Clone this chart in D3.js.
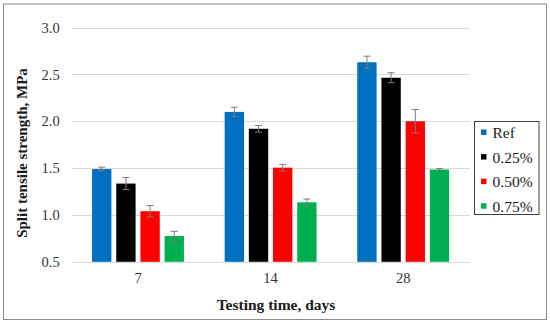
<!DOCTYPE html>
<html>
<head>
<meta charset="utf-8">
<script src="https://cdn.jsdelivr.net/npm/d3@7"></script>
<style>
  body { margin: 0; background: #fff; }
  text { font-family: "Liberation Serif", "Times New Roman", serif; }
</style>
</head>
<body>
<div id="vis"></div>
<script>
// chart data
let days = ['7', '14', '28'];
let series = ['Ref', '0.25%', '0.50%', '0.75%'];
let colors = ['#0070C0', '#000000', '#FF0000', '#00B050'];
let yTicks = [0.5, 1.0, 1.5, 2.0, 2.5, 3.0];

// mean values per series, in order of days
let refVals = [1.49, 2.10, 2.63];
let p25Vals = [1.335, 1.92, 2.465];
let p50Vals = [1.04, 1.505, 2.0];
let p75Vals = [0.775, 1.135, 1.485];

// error (+/-)
let refErr = [0.02, 0.05, 0.065];
let p25Err = [0.064, 0.035, 0.053];
let p50Err = [0.06, 0.035, 0.125];
let p75Err = [0.05, 0.035, 0.01];

let values = [refVals, p25Vals, p50Vals, p75Vals];
let errors = [refErr, p25Err, p50Err, p75Err];

let W = 550, H = 326;

let svg = d3.select('#vis')
  .append('svg')
  .attr('width', W)
  .attr('height', H);

// outer frame
svg.append('rect')
  .attr('x', 3.5).attr('y', 4)
  .attr('width', 543).attr('height', 315.5)
  .attr('fill', 'none')
  .attr('stroke', '#8c8c8c')
  .attr('stroke-width', 1);

let x0 = d3.scaleBand().domain(days).range([71.7, 469.5]);
let x1 = d3.scaleBand().domain(series)
  .range([20.35, x0.bandwidth() - 20.35])
  .paddingInner(0.2);
let y = d3.scaleLinear().domain([0.5, 3]).range([261.8, 27.6]);

// gridlines
svg.append('g')
  .selectAll('line')
  .data(yTicks)
  .enter()
  .append('line')
  .attr('x1', 71.7).attr('x2', 469.5)
  .attr('y1', d => Math.round(y(d)) + 0.5)
  .attr('y2', d => Math.round(y(d)) + 0.5)
  .attr('stroke', '#d9d9d9')
  .attr('stroke-width', 1);

// y axis labels
let yAxis = svg.append('g')
  .attr('transform', 'translate(71.7,0)')
  .call(d3.axisLeft(y).tickValues(yTicks).tickFormat(d3.format('.1f')).tickSize(0).tickPadding(12));
yAxis.select('.domain').remove();
yAxis.selectAll('text')
  .style('font-family', '"Liberation Serif", serif')
  .style('font-size', '14.5px')
  .attr('fill', '#333');

// x axis labels
let xAxis = svg.append('g')
  .attr('transform', 'translate(0,261.8)')
  .call(d3.axisBottom(x0).tickSize(0).tickPadding(11));
xAxis.select('.domain').remove();
xAxis.selectAll('text')
  .style('font-family', '"Liberation Serif", serif')
  .style('font-size', '14.5px')
  .attr('fill', '#333');

// bars
let rows = [];
series.forEach((s, i) => {
  days.forEach((d, j) => {
    rows.push({ day: d, s: s, i: i, v: values[i][j], e: errors[i][j] });
  });
});

svg.append('g')
  .selectAll('rect')
  .data(rows)
  .enter()
  .append('rect')
  .attr('x', d => x0(d.day) + x1(d.s))
  .attr('y', d => y(d.v))
  .attr('width', x1.bandwidth())
  .attr('height', d => y(0.5) - y(d.v))
  .attr('fill', d => colors[d.i]);

// error bars
let eg = svg.append('g')
  .attr('stroke', '#7a7a7a')
  .attr('stroke-width', 1);
rows.forEach(d => {
  let cx = x0(d.day) + x1(d.s) + x1.bandwidth() / 2;
  eg.append('line').attr('x1', cx).attr('x2', cx)
    .attr('y1', y(d.v + d.e)).attr('y2', y(d.v - d.e));
  [d.v + d.e, d.v - d.e].forEach(v => {
    eg.append('line').attr('x1', cx - 3.5).attr('x2', cx + 3.5)
      .attr('y1', y(v)).attr('y2', y(v));
  });
});

// axis titles
svg.append('text')
  .attr('x', 276)
  .attr('y', 309.5)
  .attr('text-anchor', 'middle')
  .style('font-size', '15.5px')
  .style('font-weight', 'bold')
  .attr('fill', '#1a1a1a')
  .text('Testing time, days');

svg.append('text')
  .attr('text-anchor', 'middle')
  .attr('transform', 'translate(27,153)rotate(-90)')
  .style('font-size', '15px')
  .style('font-weight', 'bold')
  .attr('fill', '#1a1a1a')
  .text('Split tensile strength, MPa');

// legend
svg.append('rect')
  .attr('x', 474.5).attr('y', 121.5)
  .attr('width', 64.5).attr('height', 93)
  .attr('fill', '#fff')
  .attr('stroke', '#404040')
  .attr('stroke-width', 1);

let lg = svg.append('g')
  .selectAll('g')
  .data(series)
  .enter()
  .append('g')
  .attr('transform', (d, i) => 'translate(481,' + (132.2 + i * 24.6) + ')');
lg.append('rect')
  .attr('x', 0).attr('y', -2.75)
  .attr('width', 5.5).attr('height', 5.5)
  .attr('fill', (d, i) => colors[i]);
lg.append('text')
  .attr('x', 11.5)
  .attr('y', 5.8)
  .style('font-size', '15.5px')
  .attr('fill', '#1a1a1a')
  .text(d => d);
</script>
</body>
</html>
